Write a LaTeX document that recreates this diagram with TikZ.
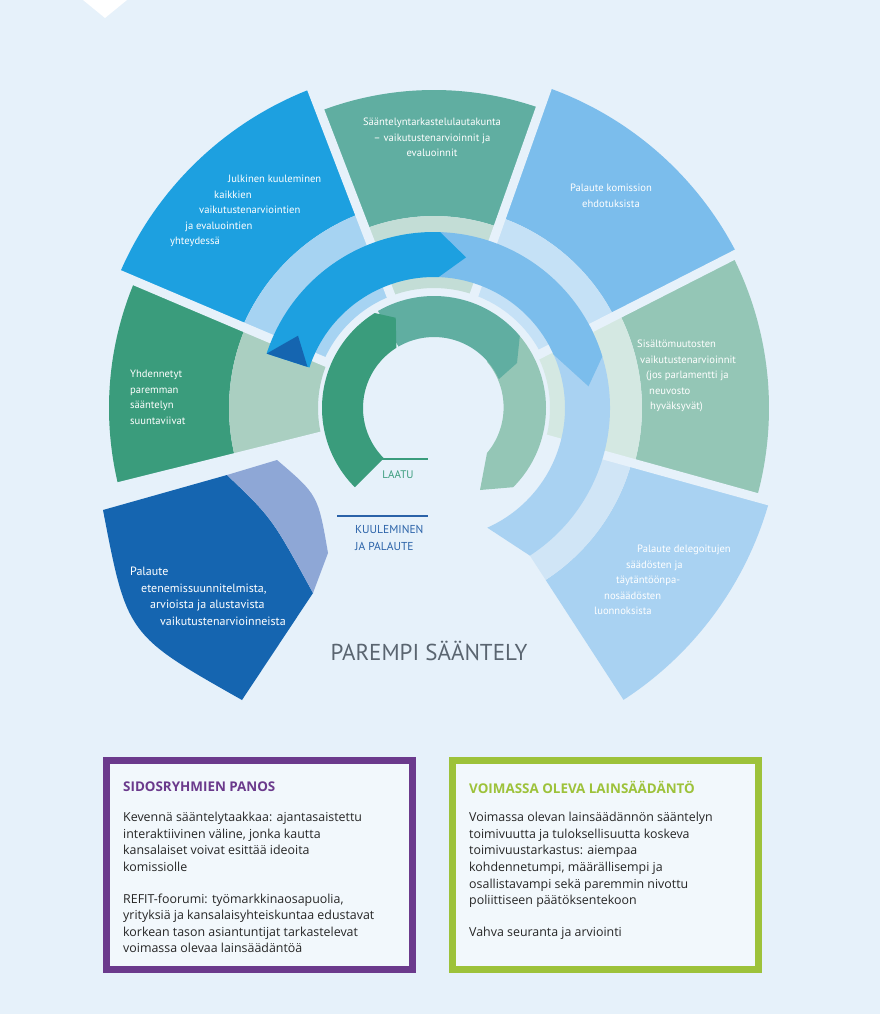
\documentclass[tikz,border=0pt]{standalone}
\usepackage{fontspec}
\setmainfont{PT Sans}
\newfontfamily\boxfont{Open Sans}
\usetikzlibrary{positioning}
\definecolor{bg}{HTML}{E6F1FA}
\definecolor{sOne}{HTML}{1565B0}\definecolor{pOne}{HTML}{8EA7D6}
\definecolor{sTwo}{HTML}{3A9C7C}\definecolor{pTwo}{HTML}{AACFC1}
\definecolor{sThree}{HTML}{1DA0E0}\definecolor{pThree}{HTML}{A6D3F2}
\definecolor{sFour}{HTML}{60AEA1}\definecolor{pFour}{HTML}{C3DDD6}
\definecolor{sFive}{HTML}{7BBDEC}\definecolor{pFive}{HTML}{C5E1F6}
\definecolor{sSix}{HTML}{94C6B6}\definecolor{pSix}{HTML}{D4E8E2}
\definecolor{sSeven}{HTML}{A9D2F2}\definecolor{pSeven}{HTML}{D0E5F6}
\definecolor{boxpurple}{HTML}{6B3A8C}
\definecolor{boxgreen}{HTML}{9DC23A}
\definecolor{labelblue}{HTML}{2A62A8}
\definecolor{titlegray}{HTML}{5A6570}
\newcommand{\ringpart}[5]{% style, start, end, inner, outer
  \fill[#1] (#2:#5) arc[start angle=#2,end angle=#3,radius=#5] -- (#3:#4) arc[start angle=#3,end angle=#2,radius=#4] -- cycle;}
\begin{document}
\begin{tikzpicture}[x=1pt, y=1pt,
    gap/.style={bg, line width=9pt},
    segtext/.style={text=white, align=left, anchor=north west, inner sep=0pt, font=\fontsize{10.6}{15.5}\selectfont},
    boxtext/.style={text=black!85, align=left, anchor=north west, inner sep=0pt, font=\boxfont\fontsize{12.4}{16.6}\selectfont},
    boxtitle/.style={anchor=west, inner sep=0pt, font=\boxfont\bfseries\fontsize{13.4}{15}\selectfont},
    every node/.style={align=center}]
  \fill[bg] (0,0) rectangle (880,-1014);
  \useasboundingbox (0,0) rectangle (880,-1014);
  \fill[white] (83,0) -- (105,-18) -- (127,0) -- cycle;

  \begin{scope}[shift={(434,-408)}]
    % outer sectors
    \ringpart{sTwo}{157}{194}{205}{325}
    \ringpart{pTwo}{157}{194}{116}{205}
    \ringpart{sThree}{111}{157}{208}{342}
    \ringpart{pThree}{111}{157}{120}{208}
    \ringpart{sFour}{70.5}{111}{192}{318}
    \ringpart{pFour}{70.5}{111}{120}{192}
    \ringpart{sFive}{27}{70.5}{202}{340}
    \ringpart{pFive}{27}{70.5}{120}{202}
    \ringpart{sSix}{-15.5}{27}{208}{335}
    \ringpart{pSix}{-15.5}{27}{116}{208}
    \ringpart{sSeven}{-57}{-15.5}{205}{348}
    \ringpart{pSeven}{-57}{-15.5}{150}{205}
    \foreach \a in {194,157,111,70.5,27,-15.5}
      \draw[gap] (\a:112) -- (\a:362);
  \end{scope}
  % bottom-left sector
  \fill[sOne] (103,-510) -- (227,-475) .. controls (272,-518) .. (313,-593) -- (242,-700) .. controls (127,-635) .. (103,-510) -- cycle;
  \fill[pOne] (227,-475) -- (277,-460) .. controls (318,-495) .. (328,-553) -- (313,-593) .. controls (272,-518) .. (227,-475) -- cycle;

  \begin{scope}[shift={(434,-408)}]
    % kuuleminen ja palaute
    \fill[sSeven] (28:176) arc[start angle=28,end angle=-57,radius=176] -- (-66:131) arc[start angle=-66,end angle=28,radius=131] -- cycle;
    \fill[sFive] (88:176) arc[start angle=88,end angle=17,radius=176] -- (8:156) -- (24:131) arc[start angle=24,end angle=88,radius=131] -- cycle;
    \fill[sThree] (162:176) arc[start angle=162,end angle=88,radius=176] -- (78:154) -- (88:131) arc[start angle=88,end angle=162,radius=131] -- cycle;
    \fill[sOne] (162:176) -- (152:154) -- (162:133) -- cycle;

    % laatu
    \fill[sSix] (40:112) arc[start angle=40,end angle=-45,radius=112] -- (46,-82) -- (53,-45) arc[start angle=-40,end angle=40,radius=71] -- cycle;
    \fill[sFour] (120:112) arc[start angle=120,end angle=40,radius=112] -- (83,45) -- (24:71) arc[start angle=24,end angle=120,radius=71] -- cycle;
    \fill[sTwo] (225:112) arc[start angle=225,end angle=122,radius=112] -- (113:98) -- (122:71) arc[start angle=122,end angle=225,radius=71] -- cycle;
  \end{scope}

  % sector texts
  \node[segtext, align=center, anchor=north] (tarkastelu) at (432,-118) {Sääntelyntarkastelulautakunta\\– vaikutustenarvioinnit ja\\evaluoinnit};
  \node[segtext, align=center, anchor=north] (komissio) at (611,-184) {Palaute komission\\ehdotuksista};
  \node[segtext] (julkinen) at (170,-175) {\hspace*{58pt}Julkinen kuuleminen\\\hspace*{44pt}kaikkien\\\hspace*{29pt}vaikutustenarviointien\\\hspace*{15pt}ja evaluointien\\yhteydessä};
  \node[segtext] (suuntaviivat) at (130,-370) {Yhdennetyt\\paremman\\sääntelyn\\suuntaviivat};
  \node[segtext] (sisalto) at (637,-340) {Sisältömuutosten\\\hspace*{3pt}vaikutustenarvioinnit\\\hspace*{9pt}(jos parlamentti ja\\\hspace*{12pt}neuvosto\\\hspace*{13pt}hyväksyvät)};
  \node[segtext] (delegoidut) at (594,-545) {\hspace*{43pt}Palaute delegoitujen\\\hspace*{32pt}säädösten ja\\\hspace*{22pt}täytäntöönpa-\\\hspace*{10pt}nosäädösten\\luonnoksista};
  \node[segtext, font=\fontsize{12}{16.5}\selectfont] (etenemis) at (130,-567) {Palaute\\\hspace*{11pt}etenemissuunnitelmista,\\\hspace*{20pt}arvioista ja alustavista\\\hspace*{30pt}vaikutustenarvioinneista};

  % centre labels
  \coordinate (laatuL) at (382,-459);
  \coordinate (laatuR) at (428,-459);
  \draw[sTwo, line width=1.2pt] (laatuL) -- (laatuR);
  \node[text=sTwo, font=\fontsize{11}{12}\selectfont] (laatu) at (398,-475) {LAATU};
  \coordinate (kuulL) at (337,-516);
  \coordinate (kuulR) at (428,-516);
  \draw[labelblue, line width=1.2pt] (kuulL) -- (kuulR);
  \node[text=labelblue, align=left, anchor=north west, inner sep=0pt, font=\fontsize{11.5}{17}\selectfont] (kuul) at (355,-525) {KUULEMINEN\\JA PALAUTE};
  \node[text=titlegray, font=\fontsize{23}{26}\selectfont] (title) at (429,-651) {PAREMPI SÄÄNTELY};

  % boxes
  \draw[boxpurple, line width=7pt, fill=white!50!bg] (106,-760) rectangle (412,-969);
  \draw[boxgreen, line width=7pt, fill=white!50!bg] (452,-760) rectangle (758,-969);
  \node[boxtitle, text=boxpurple] (panos) at (123,-787) {SIDOSRYHMIEN PANOS};
  \node[boxtext, below=25pt of panos.west, anchor=north west] (panostext) {Kevennä sääntelytaakkaa: ajantasaistettu\\interaktiivinen väline, jonka kautta\\kansalaiset voivat esittää ideoita\\komissiolle\\[15pt]REFIT-foorumi: työmarkkinaosapuolia,\\yrityksiä ja kansalaisyhteiskuntaa edustavat\\korkean tason asiantuntijat tarkastelevat\\voimassa olevaa lainsäädäntöä};
  \node[boxtitle, text=boxgreen] (voimassa) at (469,-787) {VOIMASSA OLEVA LAINSÄÄDÄNTÖ};
  \node[boxtext, below=25pt of voimassa.west, anchor=north west] (voimassatext) {Voimassa olevan lainsäädännön sääntelyn\\toimivuutta ja tuloksellisuutta koskeva\\toimivuustarkastus: aiempaa\\kohdennetumpi, määrällisempi ja\\osallistavampi sekä paremmin nivottu\\poliittiseen päätöksentekoon\\[15pt]Vahva seuranta ja arviointi};
\end{tikzpicture}
\end{document}
